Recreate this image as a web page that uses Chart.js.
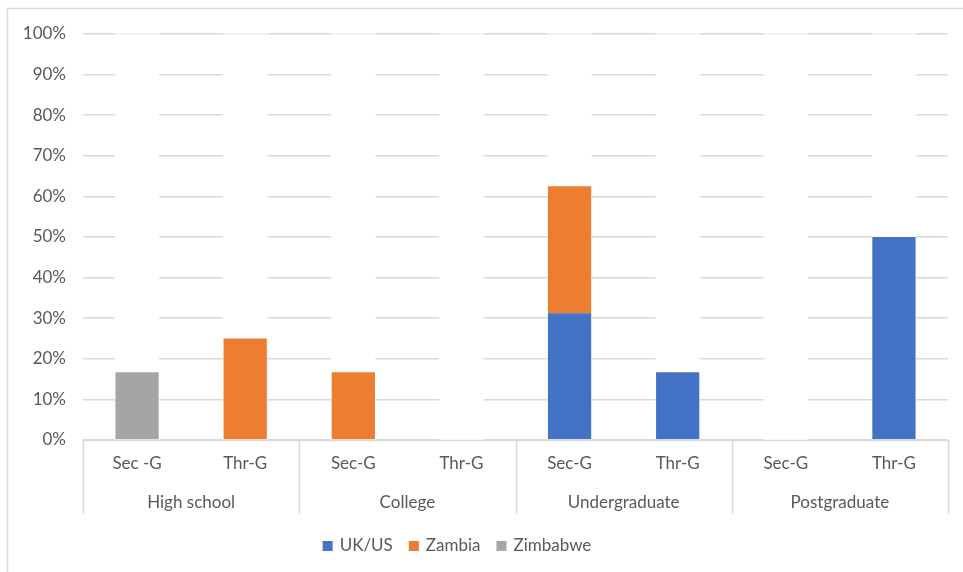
<!DOCTYPE html>
<html>
<head>
<meta charset="utf-8">
<script src="https://cdn.jsdelivr.net/npm/chart.js@4/dist/chart.umd.min.js"></script>
<style>
  html, body { margin: 0; padding: 0; background: #ffffff; }
  #wrap { width: 963px; height: 572px; position: relative; }
</style>
</head>
<body>
<div id="wrap"><canvas id="c" width="963" height="572"></canvas></div>
<script>
// Sub-categories (one bar each) and the education level they belong to
const subLabels = ['Sec -G', 'Thr-G', 'Sec-G', 'Thr-G', 'Sec-G', 'Thr-G', 'Sec-G', 'Thr-G'];
const groupLabels = ['High school', 'College', 'Undergraduate', 'Postgraduate'];
const yTicks = [0, 10, 20, 30, 40, 50, 60, 70, 80, 90, 100];

// Percentage values per country of study
const ukUs     = [0, 0, 0, 0, 31.25, 16.67, 0, 50];
const zambia   = [0, 25, 16.67, 0, 31.25, 0, 0, 0];
const zimbabwe = [16.67, 0, 0, 0, 0, 0, 0, 0];

const TEXT = '#595959';
const GRID = '#d9d9d9';
const FONT = 'Lato, "Open Sans", sans-serif';
const FONT_SIZE = 17;

// Grid lines are interrupted behind every bar slot
const slotGaps = {
  id: 'slotGaps',
  beforeDatasetsDraw(chart) {
    const { ctx, chartArea, scales } = chart;
    const meta = chart.getDatasetMeta(0);
    ctx.save();
    subLabels.forEach((_, i) => {
      const bar = meta.data[i];
      const w = bar.width + 1;
      const x = scales.x.getPixelForValue(i) - w / 2;
      ctx.fillStyle = '#ffffff';
      ctx.fillRect(x, chartArea.top + 2, w, chartArea.bottom - chartArea.top - 2);
      ctx.fillStyle = 'rgba(255,255,255,0.6)';
      ctx.fillRect(x, chartArea.top - 2, w, 4);
    });
    ctx.restore();
  }
};

// Two-level category axis: group separators, baseline and group names
const groupAxis = {
  id: 'groupAxis',
  afterDraw(chart) {
    const { ctx, chartArea, scales } = chart;
    const xs = scales.x;
    const bottom = chartArea.bottom;
    const lineEnd = bottom + 74;
    ctx.save();
    ctx.strokeStyle = GRID;
    ctx.lineWidth = 1.5;
    ctx.beginPath();
    ctx.moveTo(chartArea.left, bottom + 0.5);
    ctx.lineTo(chartArea.right, bottom + 0.5);
    const edges = [chartArea.left];
    for (let g = 1; g < groupLabels.length; g++) {
      edges.push((xs.getPixelForValue(2 * g - 1) + xs.getPixelForValue(2 * g)) / 2);
    }
    edges.push(chartArea.right);
    edges.forEach(e => {
      ctx.moveTo(Math.round(e) + 0.5, bottom);
      ctx.lineTo(Math.round(e) + 0.5, lineEnd);
    });
    ctx.stroke();
    ctx.fillStyle = TEXT;
    ctx.font = FONT_SIZE + 'px ' + FONT;
    ctx.textAlign = 'center';
    ctx.textBaseline = 'middle';
    groupLabels.forEach((lab, g) => {
      ctx.fillText(lab, (edges[g] + edges[g + 1]) / 2, bottom + 63);
    });
    ctx.restore();
  }
};

// Legend row below the axis: square swatch followed by the series name
const legendRow = {
  id: 'legendRow',
  afterDraw(chart) {
    const { ctx, chartArea } = chart;
    const box = 10, gapText = 7, gapItem = 16;
    const centerX = 457;
    const y = chartArea.bottom + 106;
    ctx.save();
    ctx.font = FONT_SIZE + 'px ' + FONT;
    ctx.textBaseline = 'middle';
    const items = chart.data.datasets.map(d => ({
      label: d.label, color: d.backgroundColor, w: ctx.measureText(d.label).width
    }));
    const total = items.reduce((s, it) => s + box + gapText + it.w, 0) + gapItem * (items.length - 1);
    let x = centerX - total / 2;
    items.forEach(it => {
      ctx.fillStyle = it.color;
      ctx.fillRect(x, y - box / 2, box, box);
      ctx.fillStyle = TEXT;
      ctx.fillText(it.label, x + box + gapText, y);
      x += box + gapText + it.w + gapItem;
    });
    ctx.restore();
  }
};

// Light frame around the whole chart
const frame = {
  id: 'frame',
  beforeDraw(chart) {
    const { ctx } = chart;
    ctx.save();
    ctx.fillStyle = '#ffffff';
    ctx.fillRect(0, 0, chart.width, chart.height);
    ctx.strokeStyle = GRID;
    ctx.lineWidth = 1.5;
    ctx.strokeRect(7.5, 8.5, chart.width + 10, chart.height + 10);
    ctx.restore();
  }
};

new Chart(document.getElementById('c'), {
  type: 'bar',
  data: {
    labels: subLabels,
    datasets: [
      { label: 'UK/US', data: ukUs, backgroundColor: '#4472c4' },
      { label: 'Zambia', data: zambia, backgroundColor: '#ed7d31' },
      { label: 'Zimbabwe', data: zimbabwe, backgroundColor: '#a5a5a5' }
    ]
  },
  options: {
    responsive: false,
    animation: false,
    devicePixelRatio: 1,
    layout: { padding: { top: 34, right: 15, bottom: 58, left: 0 } },
    datasets: { bar: { barPercentage: 0.4, categoryPercentage: 1.0, borderWidth: 0 } },
    plugins: {
      legend: { display: false },
      tooltip: { enabled: false }
    },
    scales: {
      x: {
        stacked: true,
        grid: { display: false },
        border: { display: false },
        ticks: { color: TEXT, font: { family: FONT, size: FONT_SIZE }, padding: 5, maxRotation: 0, autoSkip: false },
        afterFit(scale) { scale.height = 74; }
      },
      y: {
        stacked: true,
        min: 0,
        max: 100,
        afterBuildTicks(scale) { scale.ticks = yTicks.map(v => ({ value: v })); },
        grid: { color: GRID, lineWidth: 1.5, drawTicks: false },
        border: { display: false },
        ticks: {
          color: TEXT,
          font: { family: FONT, size: FONT_SIZE },
          padding: 17,
          callback: v => v + '%'
        },
        afterFit(scale) { scale.width = 83; }
      }
    }
  },
  plugins: [frame, slotGaps, groupAxis, legendRow]
});
</script>
</body>
</html>
